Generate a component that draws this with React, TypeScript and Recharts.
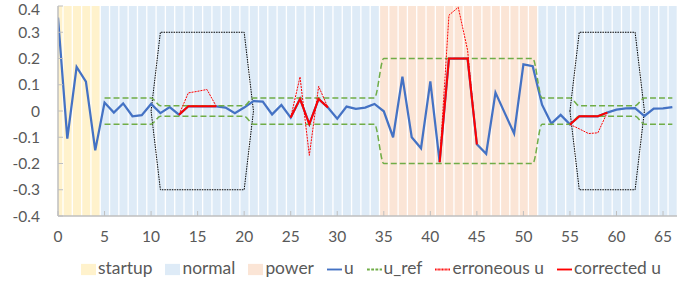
import React from 'react'
import { ComposedChart, Bar, Line, XAxis, YAxis, Legend } from 'recharts'

const FONT = 'Lato, "Open Sans", sans-serif'
const TEXT = '#595959'

// sample index on the x axis
const xs = [
  0, 1, 2, 3, 4, 5, 6, 7, 8, 9, 10, 11, 12, 13, 14, 15, 16, 17, 18, 19, 20, 21, 22,
  23, 24, 25, 26, 27, 28, 29, 30, 31, 32, 33, 34, 35, 36, 37, 38, 39, 40, 41, 42, 43,
  44, 45, 46, 47, 48, 49, 50, 51, 52, 53, 54, 55, 56, 57, 58, 59, 60, 61, 62, 63, 64,
  65, 66,
]

const u = [
  0.356, -0.105, 0.168, 0.112, -0.15, 0.032, -0.006, 0.029, -0.02, -0.016, 0.027,
  -0.008, 0.015, -0.014, 0.018, 0.018, 0.018, 0.018, 0.013, -0.008, 0.013, 0.038,
  0.036, -0.013, 0.023, -0.025, 0.046, -0.05, 0.046, 0.013, -0.029, 0.017, 0.008,
  0.013, 0.027, -0.001, -0.1, 0.131, -0.1, -0.142, 0.113, -0.195, 0.2, 0.2, 0.2,
  -0.127, -0.163, 0.07, -0.008, -0.086, 0.178, 0.171, 0.024, -0.048, -0.015, -0.051,
  -0.02, -0.02, -0.02, -0.006, 0.005, 0.01, 0.011, -0.019, 0.009, 0.01, 0.015,
]

// segments where the sensor value went wrong and was corrected
const faultStarts = [13, 25, 41, 55]
const erroneousU = [
  [-0.014, 0.069, 0.075, 0.082, 0.018],
  [-0.025, 0.13, -0.169, 0.094, 0.013],
  [-0.195, 0.365, 0.395, 0.232, -0.127],
  [-0.051, -0.068, -0.086, -0.083, -0.006],
]
const correctedU = [
  [-0.014, 0.018, 0.018, 0.018, 0.018],
  [-0.025, 0.046, -0.05, 0.046, 0.013],
  [-0.195, 0.2, 0.2, 0.2, -0.127],
  [-0.051, -0.02, -0.02, -0.02, -0.006],
]

// operating phases (background columns)
const phases = [
  { name: 'startup', from: 0, to: 4 },
  { name: 'normal', from: 5, to: 34 },
  { name: 'power', from: 35, to: 51 },
  { name: 'normal', from: 52, to: 66 },
]
const phaseColors: Record<string, string> = {
  startup: '#FFF2CC',
  normal: '#DEEBF7',
  power: '#FBE5D6',
}

// u_ref band
const refX = [5, 10, 11, 20, 21, 34, 35, 51, 52, 55, 56, 62, 63, 66]
const refUpper = [0.05, 0.05, 0.02, 0.02, 0.05, 0.05, 0.2, 0.2, 0.05, 0.05, 0.02, 0.02, 0.05, 0.05]
const refLower = [-0.05, -0.05, -0.02, -0.02, -0.05, -0.05, -0.2, -0.2, -0.05, -0.05, -0.02, -0.02, -0.05, -0.05]

// dotted windows
const windowX = [10, 11, 20, 21, 20, 11, 10, null, 55, 56, 62, 63, 62, 56, 55]
const windowY = [0, 0.3, 0.3, 0, -0.3, -0.3, 0, null, 0, 0.3, 0.3, 0, -0.3, -0.3, 0]

const xTicks = [0, 5, 10, 15, 20, 25, 30, 35, 40, 45, 50, 55, 60, 65]
const yTicks = [-0.4, -0.3, -0.2, -0.1, 0, 0.1, 0.2, 0.3, 0.4]
const legendOrder = ['startup', 'normal', 'power', 'u', 'u_ref', 'erroneous u', 'corrected u']

const Y_MIN = -0.4
const Y_MAX = 0.4

const phaseOf = (x: number) => phases.find((p) => x >= p.from && x <= p.to)!.name

const faultValue = (rows: number[][], x: number) => {
  for (let s = 0; s < faultStarts.length; s++) {
    const i = x - faultStarts[s]
    if (i >= 0 && i < rows[s].length) return rows[s][i]
  }
  return null
}

const data = xs.map((x, i) => {
  const ph = phaseOf(x)
  return {
    x,
    base: Y_MIN,
    startup: ph === 'startup' ? Y_MAX - Y_MIN : 0,
    normal: ph === 'normal' ? Y_MAX - Y_MIN : 0,
    power: ph === 'power' ? Y_MAX - Y_MIN : 0,
    u: u[i],
    erroneous: faultValue(erroneousU, x),
    corrected: faultValue(correctedU, x),
  }
})

const upperData = refX.map((x, i) => ({ x, v: refUpper[i] }))
const lowerData = refX.map((x, i) => ({ x, v: refLower[i] }))
const windowData = windowX.map((x, i) => ({ x, v: windowY[i] }))

const fmtY = (v: number) => (Math.abs(v) < 1e-9 ? '0' : v.toFixed(1))

const css = `
.recharts-legend-item { margin-right: 13px !important; }
.recharts-legend-item .recharts-surface { margin-right: 2px !important; }
`

export default function App() {
  return (
    <div style={{ position: 'absolute', left: 0, top: 0, width: 687, height: 281, background: '#fff' }}>
      <style>{css}</style>
      <ComposedChart
        width={687}
        height={281}
        data={data}
        margin={{ top: 6, right: 10, bottom: 0, left: 0 }}
        barGap={0}
      >
        <XAxis
          type="number"
          dataKey="x"
          domain={[0, 66.5]}
          ticks={xTicks}
          allowDataOverflow
          height={41}
          axisLine={{ stroke: '#BFBFBF', strokeWidth: 1.5 }}
          tickLine={{ stroke: '#BFBFBF' }}
          tickSize={-5}
          tickMargin={20}
          tick={{ fill: TEXT, fontSize: 15.5, fontFamily: FONT }}
        />
        <YAxis
          type="number"
          domain={[Y_MIN, Y_MAX]}
          ticks={yTicks}
          allowDataOverflow
          width={58}
          tickFormatter={fmtY}
          axisLine={{ stroke: '#BFBFBF', strokeWidth: 1.5 }}
          tickLine={{ stroke: '#BFBFBF' }}
          tickSize={-5}
          tickMargin={23}
          tick={{ fill: TEXT, fontSize: 15.5, fontFamily: FONT }}
        />
        <Legend
          verticalAlign="bottom"
          align="left"
          height={24}
          iconSize={15}
          itemSorter={(item: any) => legendOrder.indexOf(item.value)}
          wrapperStyle={{ left: 81, fontFamily: FONT, fontSize: 17.4 }}
          formatter={(v) => <span style={{ color: TEXT }}>{v}</span>}
        />
        <Bar dataKey="base" stackId="bg" fill="transparent" barSize={8} legendType="none" isAnimationActive={false} />
        <Bar dataKey="startup" name="startup" stackId="bg" fill={phaseColors.startup} barSize={8} legendType="rect" isAnimationActive={false} />
        <Bar dataKey="normal" name="normal" stackId="bg" fill={phaseColors.normal} barSize={8} legendType="rect" isAnimationActive={false} />
        <Bar dataKey="power" name="power" stackId="bg" fill={phaseColors.power} barSize={8} legendType="rect" isAnimationActive={false} />
        <Line
          data={windowData}
          dataKey="v"
          stroke="#000"
          strokeWidth={1}
          strokeDasharray="1.5 1"
          dot={false}
          legendType="none"
          isAnimationActive={false}
        />
        <Line dataKey="u" name="u" stroke="#4472C4" strokeWidth={2.25} dot={false} legendType="plainline" isAnimationActive={false} />
        <Line
          data={upperData}
          dataKey="v"
          name="u_ref"
          type="monotone"
          stroke="#70AD47"
          strokeWidth={1.5}
          strokeDasharray="6 3"
          dot={false}
          legendType="plainline"
          isAnimationActive={false}
        />
        <Line
          data={lowerData}
          dataKey="v"
          type="monotone"
          stroke="#70AD47"
          strokeWidth={1.5}
          strokeDasharray="6 3"
          dot={false}
          legendType="none"
          isAnimationActive={false}
        />
        <Line
          dataKey="erroneous"
          name="erroneous u"
          stroke="#FF0000"
          strokeWidth={1}
          strokeDasharray="2 1"
          dot={false}
          legendType="plainline"
          isAnimationActive={false}
        />
        <Line dataKey="corrected" name="corrected u" stroke="#FF0000" strokeWidth={2} dot={false} legendType="plainline" isAnimationActive={false} />
      </ComposedChart>
    </div>
  )
}
